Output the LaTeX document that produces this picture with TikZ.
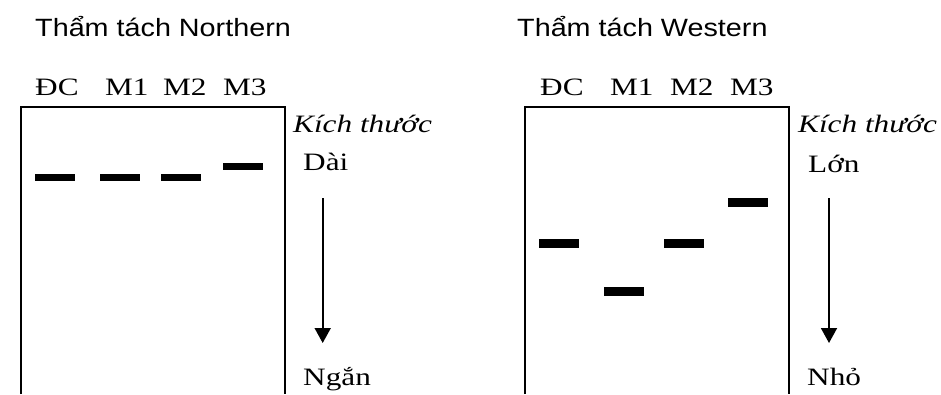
\documentclass[tikz,border=0pt]{standalone}
\usepackage{fontspec}
\setmainfont{Liberation Serif}[FakeStretch=1.25]
\newfontfamily\titlefont{Liberation Sans}[FakeStretch=1.15]
\usepackage{tikz}
\usetikzlibrary{calc,
                arrows.meta
                }

\tikzset{
    titel/.style={anchor=base west, inner sep=0pt, font=\titlefont\fontsize{25}{30}\selectfont},
    spur/.style={anchor=base west, inner sep=0pt, font=\fontsize{25}{30}\selectfont},
    groesse/.style={anchor=base west, inner sep=0pt, font=\itshape\fontsize{25}{30}\selectfont},
    rahmen/.style={line width=1.8pt},
    pfeil/.style={line width=1.8pt, -{Triangle[width=16pt,length=15pt]}},
    bande/.style={fill=black, draw=none}
}

\begin{document}
\begin{tikzpicture}[x=1pt, y=-1pt]
    \useasboundingbox (0,0) rectangle (941,394);

    % Northern-Blot (links)
    \node[titel] (tnorth) at (35,36) {Thẩm tách Northern};
    \node[spur] (ndc) at (35,95) {ĐC};
    \node[spur] (nm1) at (105,95) {M1};
    \node[spur] (nm2) at (163,95) {M2};
    \node[spur] (nm3) at (223,95) {M3};

    % Rahmen des Gels, unten offen
    \draw[rahmen] (21,394) -- (21,107) -- (285,107) -- (285,394);

    % Banden
    \foreach \xa/\yb in {35/177, 100/177, 161/177, 223/166.5}
        \fill[bande] (\xa,\yb-3.5) rectangle ++(40,7);

    % Groessenskala
    \node[groesse] (kn) at (293,132) {Kích thước};
    \node[spur] (dai) at (303,170) {Dài};
    \node[spur] (ngan) at (303,385) {Ngắn};
    \coordinate (npa) at (322.7,198);
    \coordinate (npe) at (322.7,343);
    \draw[pfeil] (npa) -- (npe);

    % Western-Blot (rechts)
    \node[titel] (twest) at (517,36) {Thẩm tách Western};
    \node[spur] (wdc) at (540,95) {ĐC};
    \node[spur] (wm1) at (610,95) {M1};
    \node[spur] (wm2) at (670,95) {M2};
    \node[spur] (wm3) at (730,95) {M3};

    % Rahmen des Gels, unten offen
    \draw[rahmen] (525,394) -- (525,107) -- (789,107) -- (789,394);

    % Banden
    \foreach \xa/\yb in {539/243, 604/291, 664/243, 728/202}
        \fill[bande] (\xa,\yb-4.5) rectangle ++(40,9);

    % Groessenskala
    \node[groesse] (kw) at (798,132) {Kích thước};
    \node[spur] (lon) at (808,172) {Lớn};
    \node[spur] (nho) at (807,385) {Nhỏ};
    \coordinate (wpa) at (829,198);
    \coordinate (wpe) at (829,343);
    \draw[pfeil] (wpa) -- (wpe);
\end{tikzpicture}
\end{document}
